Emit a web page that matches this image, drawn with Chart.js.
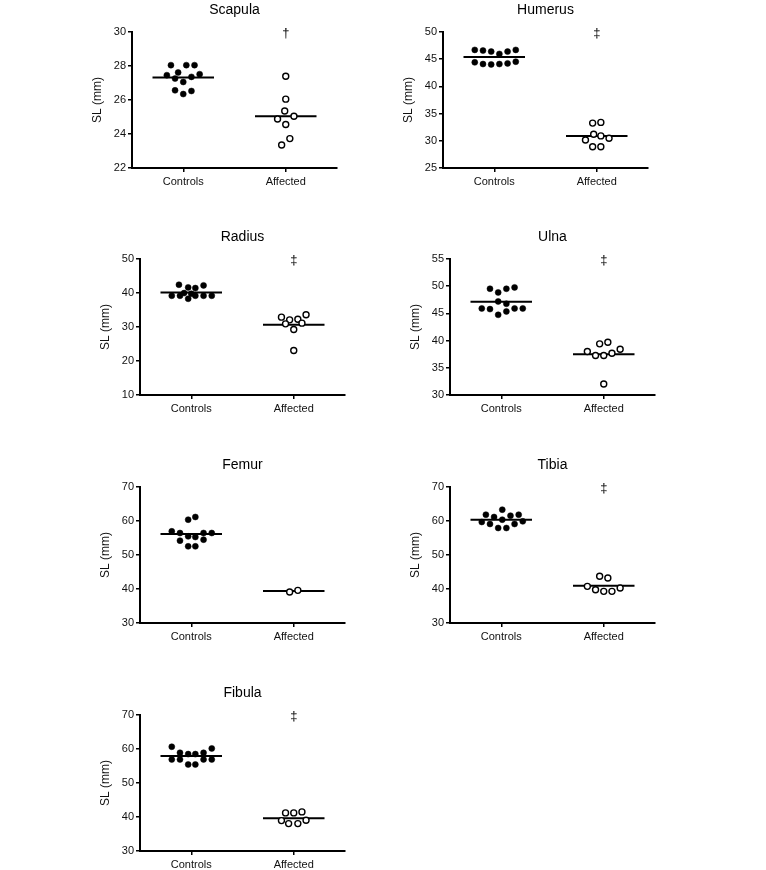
<!DOCTYPE html>
<html>
<head>
<meta charset="utf-8">
<script src="https://cdn.jsdelivr.net/npm/chart.js@4.4.1/dist/chart.umd.min.js"></script>
<style>
  body { margin: 0; background: #fff; }
  #wrap { position: relative; width: 766px; height: 870px; }
  #wrap canvas { position: absolute; }
</style>
</head>
<body>
<div id="wrap"></div>
<script>
const groups = ['Controls', 'Affected'];

// values (mm), spread = sideways offset of each dot inside its column
const scapulaControls = [28.05, 28.05, 28.05, 27.62, 27.46, 27.52, 27.26, 27.36, 27.06, 26.57, 26.53, 26.35];
const scapulaControlsSpread = [-0.12, 0.03, 0.11, -0.05, -0.16, 0.16, -0.08, 0.08, 0, -0.08, 0.08, 0];
const scapulaAffected = [27.4, 26.05, 25.35, 24.88, 25.04, 24.56, 23.73, 23.35];
const scapulaAffectedSpread = [0, 0, -0.01, -0.08, 0.08, 0, 0.04, -0.04];

const humerusControls = [46.71, 46.59, 46.4, 45.97, 46.4, 46.71, 44.42, 44.11, 44.04, 44.11, 44.23, 44.54];
const humerusControlsSpread = [-0.19, -0.11, -0.03, 0.05, 0.13, 0.21, -0.19, -0.11, -0.03, 0.05, 0.13, 0.21];
const humerusAffected = [33.25, 33.38, 31.2, 30.9, 30.16, 30.46, 28.9, 28.9];
const humerusAffectedSpread = [-0.04, 0.04, -0.03, 0.04, -0.11, 0.12, -0.04, 0.04];

const radiusControls = [42.43, 41.65, 41.45, 42.24, 39.98, 39.78, 39.19, 39.19, 39.19, 39.19, 39.19, 38.3];
const radiusControlsSpread = [-0.12, -0.03, 0.04, 0.12, -0.07, 0, -0.19, -0.11, 0.04, 0.12, 0.2, -0.03];
const radiusAffected = [32.9, 32.11, 32.3, 33.6, 30.93, 31.13, 29.26, 23.07];
const radiusAffectedSpread = [-0.12, -0.04, 0.04, 0.12, -0.08, 0.08, 0, 0];

const ulnaControls = [49.53, 48.86, 49.53, 49.78, 47.2, 46.77, 45.91, 45.79, 45.36, 45.91, 45.91, 44.74];
const ulnaControlsSpread = [-0.11, -0.03, 0.05, 0.13, -0.03, 0.05, -0.19, -0.11, 0.05, 0.13, 0.21, -0.03];
const ulnaAffected = [39.4, 39.7, 37.99, 37.25, 37.25, 37.68, 38.42, 32.03];
const ulnaAffectedSpread = [-0.04, 0.04, -0.16, -0.08, 0, 0.08, 0.16, 0];

const femurControls = [60.39, 61.18, 56.96, 56.47, 55.49, 55.29, 56.47, 56.47, 54.22, 54.51, 52.55, 52.55];
const femurControlsSpread = [-0.03, 0.04, -0.19, -0.11, -0.03, 0.04, 0.12, 0.2, -0.11, 0.12, -0.03, 0.04];
const femurAffected = [39.12, 39.61];
const femurAffectedSpread = [-0.04, 0.04];

const tibiaControls = [63.33, 61.86, 61.18, 61.57, 61.86, 59.71, 59.12, 60.39, 59.12, 59.9, 57.94, 57.94];
const tibiaControlsSpread = [0.01, -0.15, -0.07, 0.09, 0.17, -0.19, -0.11, 0.01, 0.13, 0.21, -0.03, 0.05];
const tibiaAffected = [43.73, 43.24, 40.78, 39.8, 39.31, 39.31, 40.29];
const tibiaAffectedSpread = [-0.04, 0.04, -0.16, -0.08, 0, 0.08, 0.16];

const fibulaControls = [60.66, 58.89, 58.5, 58.5, 58.89, 60.17, 56.93, 56.93, 55.45, 55.45, 56.93, 56.93];
const fibulaControlsSpread = [-0.19, -0.11, -0.03, 0.04, 0.12, 0.2, -0.19, -0.11, -0.03, 0.04, 0.12, 0.2];
const fibulaAffected = [41.2, 41.2, 41.5, 38.94, 38.06, 38.06, 39.04];
const fibulaAffectedSpread = [-0.08, 0, 0.08, -0.12, -0.05, 0.04, 0.12];

// medians [controls, affected]
const scapulaMedians = [27.32, 25.04];
const humerusMedians = [45.41, 30.9];
const radiusMedians = [40.17, 30.64];
const ulnaMedians = [47.14, 37.49];
const femurMedians = [56.18, 39.41];
const tibiaMedians = [60.39, 40.98];
const fibulaMedians = [57.91, 39.63];

// significance marks
const scapulaMark = '\u2020';
const humerusMark = '\u2021';
const radiusMark = '\u2021';
const ulnaMark = '\u2021';
const femurMark = '';
const tibiaMark = '\u2021';
const fibulaMark = '\u2021';

// y axis ranges [min, max, step]
const scapulaAxis = [22, 30, 2];
const humerusAxis = [25, 50, 5];
const radiusAxis = [10, 50, 10];
const ulnaAxis = [30, 55, 5];
const femurAxis = [30, 70, 10];
const tibiaAxis = [30, 70, 10];
const fibulaAxis = [30, 70, 10];

const panels = [
  { title: 'Scapula', c: scapulaControls, cs: scapulaControlsSpread, a: scapulaAffected, as: scapulaAffectedSpread, med: scapulaMedians, mark: scapulaMark, axis: scapulaAxis, left: 132, top: 32 },
  { title: 'Humerus', c: humerusControls, cs: humerusControlsSpread, a: humerusAffected, as: humerusAffectedSpread, med: humerusMedians, mark: humerusMark, axis: humerusAxis, left: 443, top: 32 },
  { title: 'Radius', c: radiusControls, cs: radiusControlsSpread, a: radiusAffected, as: radiusAffectedSpread, med: radiusMedians, mark: radiusMark, axis: radiusAxis, left: 140, top: 259 },
  { title: 'Ulna', c: ulnaControls, cs: ulnaControlsSpread, a: ulnaAffected, as: ulnaAffectedSpread, med: ulnaMedians, mark: ulnaMark, axis: ulnaAxis, left: 450, top: 259 },
  { title: 'Femur', c: femurControls, cs: femurControlsSpread, a: femurAffected, as: femurAffectedSpread, med: femurMedians, mark: femurMark, axis: femurAxis, left: 140, top: 487 },
  { title: 'Tibia', c: tibiaControls, cs: tibiaControlsSpread, a: tibiaAffected, as: tibiaAffectedSpread, med: tibiaMedians, mark: tibiaMark, axis: tibiaAxis, left: 450, top: 487 },
  { title: 'Fibula', c: fibulaControls, cs: fibulaControlsSpread, a: fibulaAffected, as: fibulaAffectedSpread, med: fibulaMedians, mark: fibulaMark, axis: fibulaAxis, left: 140, top: 715 }
];

const FONT = '"Liberation Sans", Arial, Helvetica, sans-serif';
const MEDIAN_HALF = 0.3;

// draws the dagger above the Affected column
const markPlugin = {
  id: 'mark',
  afterDatasetsDraw(chart, args, opts) {
    if (!opts.text) return;
    const { ctx, scales } = chart;
    ctx.save();
    ctx.fillStyle = '#000';
    ctx.font = '13px ' + FONT;
    ctx.textAlign = 'center';
    ctx.textBaseline = 'middle';
    ctx.fillText(opts.text, scales.x.getPixelForValue(2), scales.y.getPixelForValue(scales.y.max) + 1);
    ctx.restore();
  }
};

const wrap = document.getElementById('wrap');

panels.forEach((p) => {
  const canvas = document.createElement('canvas');
  canvas.width = 281;
  canvas.height = 198;
  canvas.style.left = (p.left - 70) + 'px';
  canvas.style.top = (p.top - 32) + 'px';
  wrap.appendChild(canvas);

  const medianLine = [
    { x: 1 - MEDIAN_HALF, y: p.med[0] }, { x: 1 + MEDIAN_HALF, y: p.med[0] },
    { x: 1.5, y: null },
    { x: 2 - MEDIAN_HALF, y: p.med[1] }, { x: 2 + MEDIAN_HALF, y: p.med[1] }
  ];

  new Chart(canvas, {
    type: 'scatter',
    data: {
      datasets: [
        {
          label: groups[0],
          data: p.c.map((v, i) => ({ x: 1 + p.cs[i], y: v })),
          pointRadius: 3,
          pointBackgroundColor: '#000',
          pointBorderColor: '#000',
          pointBorderWidth: 0.5
        },
        {
          label: groups[1],
          data: p.a.map((v, i) => ({ x: 2 + p.as[i], y: v })),
          pointRadius: 3,
          pointBackgroundColor: '#fff',
          pointBorderColor: '#000',
          pointBorderWidth: 1.4
        },
        {
          label: 'Median',
          data: medianLine,
          showLine: true,
          spanGaps: false,
          pointRadius: 0,
          borderColor: '#000',
          borderWidth: 2
        }
      ]
    },
    options: {
      responsive: false,
      animation: false,
      layout: { padding: { right: 6 } },
      plugins: {
        legend: { display: false },
        tooltip: { enabled: false },
        title: {
          display: true,
          text: p.title,
          fullSize: false,
          color: '#000',
          font: { family: FONT, size: 14, weight: 'normal' },
          padding: { top: 2, bottom: 13.2 }
        },
        mark: { text: p.mark }
      },
      scales: {
        x: {
          type: 'linear',
          min: 0.5,
          max: 2.5,
          afterBuildTicks: (scale) => { scale.ticks = [{ value: 1 }, { value: 2 }]; },
          afterFit: (scale) => { scale.height = 30; },
          ticks: {
            color: '#111',
            font: { family: FONT, size: 11 },
            padding: 3,
            maxRotation: 0,
            callback: (v) => groups[v - 1]
          },
          grid: { drawOnChartArea: false, tickLength: 4, color: '#000', lineWidth: 1.5 },
          border: { color: '#000', width: 2 }
        },
        y: {
          min: p.axis[0],
          max: p.axis[1],
          afterFit: (scale) => { scale.width = 70; },
          ticks: {
            stepSize: p.axis[2],
            color: '#111',
            font: { family: FONT, size: 11 },
            padding: 2
          },
          grid: { drawOnChartArea: false, tickLength: 4, color: '#000', lineWidth: 1.5 },
          border: { color: '#000', width: 2 },
          title: {
            display: true,
            text: 'SL (mm)',
            color: '#111',
            font: { family: FONT, size: 12 },
            padding: { top: 28, bottom: 0 }
          }
        }
      }
    },
    plugins: [markPlugin]
  });
});
</script>
</body>
</html>
